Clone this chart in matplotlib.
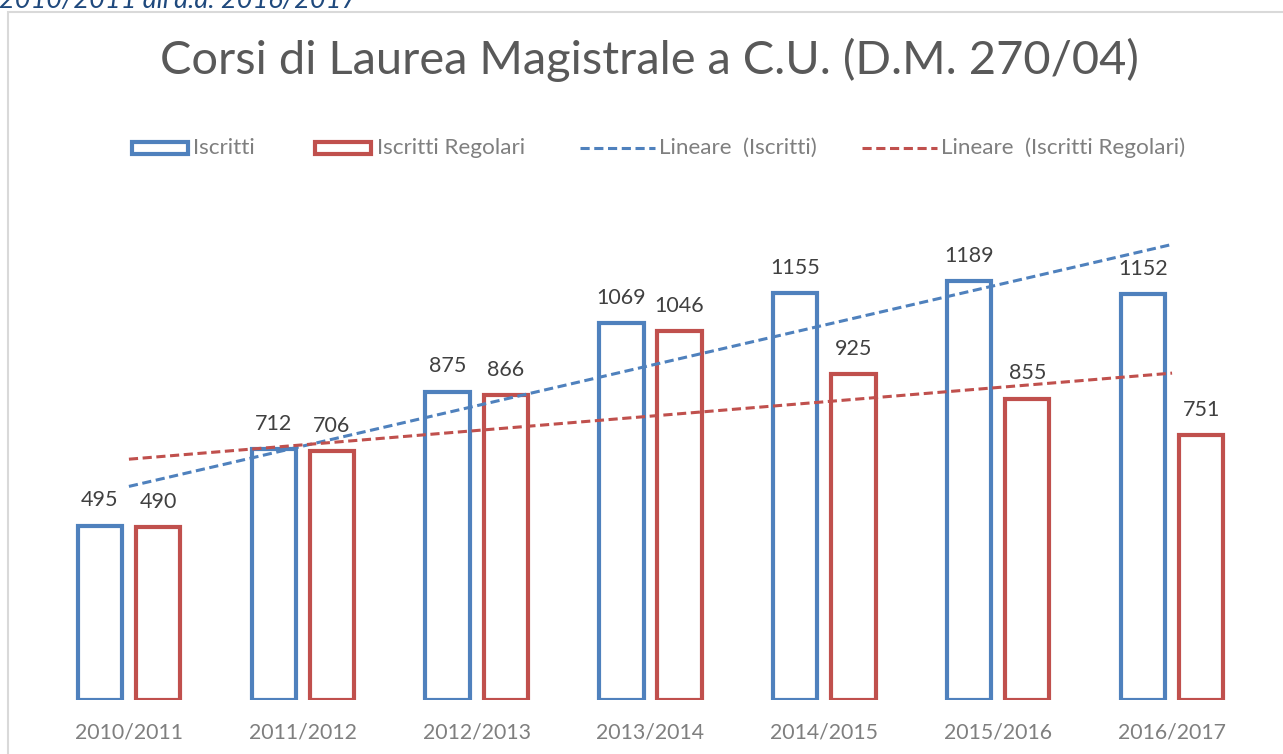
import matplotlib
matplotlib.use("Agg")
import matplotlib.pyplot as plt
import numpy as np
from matplotlib.lines import Line2D
from matplotlib.patches import Rectangle

plt.rcParams["font.family"] = ["Lato", "DejaVu Sans"]

# data
years = ["2010/2011", "2011/2012", "2012/2013", "2013/2014", "2014/2015", "2015/2016", "2016/2017"]
iscritti = [495, 712, 875, 1069, 1155, 1189, 1152]
regolari = [490, 706, 866, 1046, 925, 855, 751]

blue = "#4F81BD"
red = "#C0504D"
grey = "#595959"
lgrey = "#7F7F7F"

W, H = 1283, 754
fig = plt.figure(figsize=(W / 100, H / 100), dpi=100)

# chart frame
fig.patches.append(Rectangle((8 / W, -0.1), 1.1, 1 - 12 / H + 0.1, transform=fig.transFigure,
                             fill=False, edgecolor="#D9D9D9", linewidth=1.5))
fig.text(-1 / W, 1 - 8 / H, "2010/2011 all'a.a. 2016/2017", color="#1F497D", style="italic",
         fontsize=19.5, ha="left", va="baseline")

ax = fig.add_axes([42 / W, 54 / H, 1217 / W, 494 / H])
x = np.arange(len(years))
bw = 0.255
off = 0.167
ax.bar(x - off, iscritti, bw, fill=False, edgecolor=blue, linewidth=3)
ax.bar(x + off, regolari, bw, fill=False, edgecolor=red, linewidth=3)

for xi, v in zip(x, iscritti):
    ax.annotate(str(v), (xi - off, v), xytext=(0, 11), textcoords="offset points",
                ha="center", va="bottom", fontsize=15.5, color="#404040")
for xi, v in zip(x, regolari):
    ax.annotate(str(v), (xi + off, v), xytext=(0, 11), textcoords="offset points",
                ha="center", va="bottom", fontsize=15.5, color="#404040")

# linear trendlines
dash = (0, (3, 1.5))
for vals, c in [(iscritti, blue), (regolari, red)]:
    p = np.polyfit(x, vals, 1)
    ax.plot(x, np.polyval(p, x), color=c, linestyle=dash, linewidth=2.2)

ax.set_xlim(-0.5, 6.5)
ax.set_ylim(0, 1402)
ax.set_xticks(x)
ax.set_xticklabels(years, fontsize=15.3, color=lgrey)
ax.tick_params(axis="x", length=0, pad=16)
ax.set_yticks([])
for s in ax.spines.values():
    s.set_visible(False)

fig.text(0.5 + 8 / W, 1 - 60 / H, "Corsi di Laurea Magistrale a C.U. (D.M. 270/04)", ha="center",
         va="center", fontsize=33.8, color=grey)

# legend, drawn by hand to get Excel's spacing
ly = 1 - 148 / H
def fx(px):
    return px / W

for x0, c in [(132, blue), (315, red)]:
    fig.patches.append(Rectangle((fx(x0), ly - 6 / H), fx(56), 12 / H, transform=fig.transFigure,
                                 facecolor="white", edgecolor=c, linewidth=3))
for x0, c in [(580, blue), (862, red)]:
    fig.lines.append(Line2D([fx(x0), fx(x0 + 75)], [ly, ly], transform=fig.transFigure,
                            color=c, linestyle=dash, linewidth=2.2))
for x0, t in [(193, "Iscritti"), (377, "Iscritti Regolari"), (659, "Lineare  (Iscritti)"),
              (941, "Lineare  (Iscritti Regolari)")]:
    fig.text(fx(x0), ly, t, fontsize=16.2, color=lgrey, ha="left", va="center")

plt.savefig("out.png", dpi=100)
